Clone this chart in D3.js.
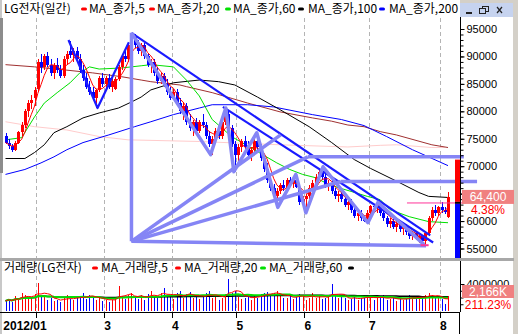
<!DOCTYPE html>
<html><head><meta charset="utf-8">
<script src="https://cdn.jsdelivr.net/npm/d3@7/dist/d3.min.js"></script>
<style>
body{margin:0;background:#fff;}
svg{display:block;}
text{font-family:"Liberation Sans",Arial,sans-serif;}
.kr{font-family:"Noto Sans CJK KR","Liberation Sans",sans-serif;}
</style>
</head><body>
<svg id="chart" width="518" height="334"></svg>
<script>
// ---- daily candles, LG전자 (Jan–Aug 2012) ----
const opens  = [75500,74300,73600,73000,74300,76200,77500,80000,81500,82500,84000,89000,88000,90000,88500,87000,88500,87500,86500,89500,
91000,90200,91000,89500,87500,86000,84500,83500,82500,83800,86000,85000,86000,84500,84000,85800,88000,90000,89500,92000,
93800,92000,91000,92000,90000,88500,89000,87000,85500,86500,85000,83500,82500,83500,81500,80000,81000,78000,77000,78000,
76500,78000,77500,75500,74000,75000,76500,75500,78000,79500,77000,74000,72000,73500,74500,73500,72000,73000,74500,73500,
71500,69500,67500,66000,64500,65500,66500,66000,67500,67000,67500,66200,63500,64000,64500,66000,67000,68000,69000,68000,
66500,67000,65500,64500,65000,64000,63000,63500,62000,61000,61500,60500,60000,61500,62800,62500,63000,61500,60500,59500,
60000,59000,59500,58500,59000,58000,57200,57800,56800,57200,56300,57800,60500,62000,61500,62500,62000,60800];
const highs  = [76000,75000,74000,74600,76500,78000,80500,82000,83000,84500,89500,90500,90500,90800,89500,88800,89800,88500,90000,91000,
92800,91500,91800,90500,88500,87000,85500,84500,84000,86500,87000,86500,86800,86000,86200,88500,90500,91500,92500,94300,
94000,93000,92500,92500,90500,89500,89500,88000,87000,87000,85800,84500,84000,84000,82500,81500,81500,79500,78500,78800,
78500,79500,78000,76500,75500,77000,77500,78500,80600,80000,77500,74500,74000,75000,75500,74500,73500,75000,76100,74000,
72000,70500,68500,66800,66000,67000,67500,67800,68000,68000,68500,66500,64500,65000,66500,67500,68500,69500,69900,68500,
67500,67500,66000,65500,65500,64500,64000,64000,62500,62000,62000,61000,62000,63000,63200,63400,63200,62000,61000,60500,
60500,60000,60000,59500,59500,58500,58200,58000,57500,57500,58000,61000,62500,63000,62800,63500,62500,65300];
const lows   = [74000,73200,72600,72800,74000,75500,77000,79000,80500,81000,83500,87000,87500,88000,86500,85800,87000,86000,86000,88500,
89800,89000,89000,87000,85500,84000,83000,82000,80600,83500,84500,84000,84000,83500,83800,85500,87500,89000,89000,91500,
91500,90500,90000,89500,88000,87000,86500,85000,85000,84500,83000,82000,82000,81000,79500,78500,77500,76500,75500,76000,
76000,77000,75000,73500,72100,74500,75000,75000,77500,76500,73500,69000,71000,72500,73000,71500,71000,72500,73000,71000,
69000,67000,65500,64000,62500,65000,65500,65500,66500,66000,66000,63000,62200,61500,64000,65500,66500,67500,67500,66000,
65500,65000,64000,63500,63500,62500,62000,61500,60500,60000,60000,59800,59700,61000,62000,61500,61000,60000,59000,58800,
58500,58000,58000,57500,57500,56800,56500,56500,56000,56000,55700,57500,60000,61000,61000,61500,61200,60500];
const closes = [74300,73600,73000,74300,76200,77500,80000,81500,82000,83800,89000,88000,90000,88500,87000,88500,87500,86500,89500,90500,
90200,91000,89500,87500,86000,84500,83500,82500,83800,86000,85000,86000,84500,85500,85800,88000,90000,89500,92000,93800,
92000,91000,92000,90000,88500,89000,87000,85500,86500,85000,83500,82500,83500,81500,80000,81000,78000,77000,78000,76500,
78000,77500,75500,74000,75000,76500,75500,78000,79500,77000,74000,72000,73500,74500,73500,72000,73000,74500,73500,71500,
69500,67500,66000,64500,65500,66500,66000,67500,67000,67500,66200,63500,64000,64500,66000,67000,68000,69000,68000,66500,
67000,65500,64500,65000,64000,63000,63500,62000,61000,61500,60500,60000,61500,62800,62500,63000,61500,60500,59500,60000,
59000,59500,58500,59000,58000,57200,57800,56800,57200,56300,57800,60500,62000,61500,62500,62000,61700,64400];
// volume, thousands of shares
const volumes = [1500,1800,1400,2200,1900,2600,2300,1800,2000,2500,4100,2200,2400,1600,1900,1500,1700,1400,2000,2300,
1800,1600,1900,2200,2700,1800,2400,2000,1600,2100,1500,1700,1400,1600,2000,3700,2200,1800,2400,2600,
2100,1800,2400,1700,2500,2900,2200,2000,2600,3400,2200,2100,1800,2600,2900,1900,2500,2800,2000,2200,
1800,2300,2600,2900,2000,2200,1700,2000,2500,4800,2600,2900,2100,1800,2000,2300,1700,2200,2000,2500,
2700,2800,2400,2600,2900,2200,1900,2000,2400,1800,2100,2500,2300,1700,2000,2600,1900,2200,1800,2000,
2200,4000,2300,1900,2100,2000,1600,1800,2200,1700,2000,1900,2300,2100,1700,1900,2000,2300,1600,1800,
2000,1500,1900,1700,1800,2300,2000,1800,2200,1900,2400,2700,2300,1900,2100,1800,1025.4,2166];

// first trading day of each month shown, and its axis label
const monthStart  = [10,31,52,72,93,113,135];
const monthLabels = ["2012/01","3","4","5","6","7","8"];
const priceTicks  = [55000,60000,65000,70000,75000,80000,85000,90000,95000];

// longer moving averages as [day index, price]
const ma60  = [[0,74800],[5,75200],[9,79000],[12,81500],[16,83400],[20,85200],[23,87000],[26,88100],[29,87700],[36,87900],[42,88300],[45,88500],[52,88100],[56,85700],[60,82800],[64,78500],[70,75400],[77,73000],[84,70600],[88,69400],[92,68500],[96,67900],[99,67000],[103,66100],[107,65400],[112,64500],[116,63900],[119,62100],[125,60800],[131,59900],[137,59700]];
const ma100 = [[0,71400],[6,71400],[9,72500],[12,73900],[15,76100],[19,77200],[24,78800],[29,79700],[35,80600],[39,81700],[42,82600],[45,83900],[52,85200],[60,85700],[66,85400],[71,84800],[78,82600],[85,80300],[94,77200],[101,74300],[108,71200],[113,69600],[122,67000],[128,65200],[131,64500],[137,64300]];
const ma120 = [[0,88500],[9,88100],[19,87500],[27,87000],[36,86300],[42,85700],[45,85400],[54,84800],[56,84500],[64,83400],[75,81500],[85,79900],[95,78800],[101,78200],[106,77500],[111,77200],[116,76300],[121,75700],[132,73900],[137,73400]];
const ma200 = [[0,68500],[6,69400],[11,70600],[15,71700],[19,73000],[24,74300],[32,75700],[40,77200],[45,78100],[52,79400],[60,80600],[64,81200],[75,81200],[83,80800],[95,79400],[104,78500],[111,77400],[118,75400],[126,73000],[137,70100]];
const ma240 = [[0,78100],[9,77200],[19,76600],[29,75400],[38,74800],[60,74500],[85,73900],[106,73500],[116,73800],[121,73900],[132,73400],[136,73400]];

// drawn studies: trend lines, zigzag, fan, levels
const trendV     = [[19.5,93000],[28.5,80600],[38.2,92600]];
const trendUpper = [[39,94300],[131.5,57400]];
const trendLower = [[67.3,80800],[132.4,56100]];
const zigzag = [[39,94300],[63.5,72100],[68.2,80600],[70.7,69000],[77.8,76100],[84.3,62500],[89.9,68500],[93,61500],[98.3,69900],[112.2,59700],[115.3,63400],[129.6,55700]];
const fanOrigin = [39,56300];
const fanEnds   = [[85.2,75700],[93.6,71700],[103.8,67200],[130.2,55500]];
const levels    = [[93.6,141.9,71700],[103.8,146,67200]];
const markLine  = [124.3,142.6,63300];
const rangeBar  = [71200,63500,53200];

const priceLegend = ["MA_종가,5","MA_종가,20","MA_종가,60","MA_종가,100","MA_종가,200"];
const priceLegendColors = ["#ff0000","#ff0000","#00e000","#000000","#0000ff"];
const volLegend = ["MA_거래량,5","MA_거래량,20","MA_거래량,60",""];
const volLegendColors = ["#ff0000","#ff0000","#00e000","#000000"];

// ---- scales ----
const n = closes.length;
const x  = d3.scaleLinear().domain([0, n-1]).range([5.5, 448]);
const y  = d3.scaleLinear().domain([55000, 95000]).range([248.5, 29]);
const yv = d3.scaleLinear().domain([0, 4000]).range([311, 284]);

const svg = d3.select("#chart");
const defs = svg.append("defs");
defs.append("clipPath").attr("id","pclip").append("rect").attr("x",3).attr("y",18).attr("width",456).attr("height",240);
defs.append("clipPath").attr("id","vclip").append("rect").attr("x",3).attr("y",262).attr("width",456).attr("height",50);

// ---- frame ----
svg.append("rect").attr("width",518).attr("height",334).attr("fill","#fff");
svg.append("rect").attr("x",513).attr("y",0).attr("width",5).attr("height",334).attr("fill","#d4d0c8");
svg.append("rect").attr("x",460).attr("y",0).attr("width",58).attr("height",3).attr("fill","#d4d0c8");
svg.append("rect").attr("x",460).attr("y",3).attr("width",53).attr("height",14).attr("fill","#c6d3ef");
svg.append("rect").attr("x",0).attr("y",0).attr("width",2).attr("height",334).attr("fill","#c8c8c8");
svg.append("rect").attr("x",0).attr("y",18).attr("width",3).attr("height",155).attr("fill","#8c8c8c");
// window buttons
const btn = svg.append("g").attr("stroke","#222").attr("fill","none").attr("shape-rendering","crispEdges");
btn.append("line").attr("x1",466).attr("x2",472).attr("y1",12.5).attr("y2",12.5).attr("stroke-width",2);
btn.append("rect").attr("x",479.5).attr("y",8.5).attr("width",6).attr("height",5);
btn.append("polyline").attr("points","482.5,8.5 482.5,6.5 488.5,6.5 488.5,11.5 485.5,11.5");
btn.append("path").attr("d","M497,7L502,13M502,7L497,13").attr("shape-rendering","geometricPrecision").attr("stroke-width",1.2);

// ---- month grid ----
const grid = svg.append("g").attr("stroke","#b4b4b4").attr("stroke-dasharray","4,3");
monthStart.forEach(m => {
  const gx = Math.round(x(m-0.5)) + 0.5;
  grid.append("line").attr("x1",gx).attr("x2",gx).attr("y1",18).attr("y2",258);
  grid.append("line").attr("x1",gx).attr("x2",gx).attr("y1",262).attr("y2",312);
});

// ---- price panel ----
const pp = svg.append("g").attr("clip-path","url(#pclip)");
const pline = d3.line().x(d => x(d[0])).y(d => y(d[1]));
[[ma240,"#ffcccc",1],[ma120,"#a03030",1],[ma200,"#0000ff",1],[ma100,"#000000",1],[ma60,"#00e000",1]].forEach(([pts,c,w]) => {
  pp.append("path").attr("d",pline(pts)).attr("fill","none").attr("stroke",c).attr("stroke-width",w);
});

const idx = d3.range(n);
const colorOf = i => closes[i] >= opens[i] ? "#ff0000" : "#0000ff";
pp.append("g").attr("shape-rendering","crispEdges").selectAll("rect").data(idx).join("rect")
  .attr("x", i => Math.round(x(i))).attr("y", i => y(highs[i]))
  .attr("width",1).attr("height", i => y(lows[i]) - y(highs[i])).attr("fill", colorOf);
pp.append("g").attr("shape-rendering","crispEdges").selectAll("rect").data(idx).join("rect")
  .attr("x", i => Math.round(x(i)) - 1).attr("y", i => y(Math.max(opens[i],closes[i])))
  .attr("width",3).attr("height", i => Math.max(1, y(Math.min(opens[i],closes[i])) - y(Math.max(opens[i],closes[i]))))
  .attr("fill", colorOf);

const sma = (arr, k) => arr.map((_, i) => d3.mean(arr.slice(Math.max(0, i-k+1), i+1)));
const ma5 = sma(closes, 5);
pp.append("path").attr("d", d3.line().x((d,i) => x(i)).y(d => y(d))(ma5))
  .attr("fill","none").attr("stroke","#ff0000").attr("stroke-width",1);

// studies
const st = svg.append("g");
const trendStyle = (p, c, w) => p.attr("fill","none").attr("stroke",c).attr("stroke-width",w).attr("stroke-linejoin","round");
trendStyle(st.append("path").attr("d", pline(trendV)), "#1a1aff", 2.2);
trendStyle(st.append("path").attr("d", pline(trendUpper)), "#1a1aff", 2.2);
trendStyle(st.append("path").attr("d", pline(trendLower)), "#1a1aff", 2.2);
const lav = "#8585f5";
trendStyle(st.append("path").attr("d", pline([[fanOrigin[0],94300],fanOrigin])), lav, 3.5);
fanEnds.forEach(e => trendStyle(st.append("path").attr("d", pline([fanOrigin, e])), lav, 3.5));
levels.forEach(l => trendStyle(st.append("path").attr("d", pline([[l[0],l[2]],[l[1],l[2]]])), lav, 3.5));
trendStyle(st.append("path").attr("d", pline(zigzag)), lav, 3.5);
st.append("path").attr("d", pline([[markLine[0],markLine[2]],[markLine[1],markLine[2]]]))
  .attr("stroke","#ff3399").attr("stroke-width",1);
st.append("path").attr("d", pline([[128.5,55600],[131,55600]])).attr("stroke","#ff3399").attr("stroke-width",2);

// price range bar at the right edge
svg.append("rect").attr("x",455).attr("y",y(rangeBar[0])).attr("width",5).attr("height",y(rangeBar[1])-y(rangeBar[0])).attr("fill","#ff0000");
svg.append("rect").attr("x",455).attr("y",y(rangeBar[1])).attr("width",5).attr("height",2).attr("fill","#000");
svg.append("rect").attr("x",455).attr("y",y(rangeBar[1])+2).attr("width",5).attr("height",y(rangeBar[2])-y(rangeBar[1])-2).attr("fill","#0000ff");

const last = closes[n-1], prev = closes[n-2];
const lastV = volumes[n-1], prevV = volumes[n-2];
// labels that sit right under the price tag / change readout are handled separately
const underTag  = d => Math.abs(y(d) - y(last)) < 8;
const underRead = d => y(d) - y(last) >= 8 && y(d) - y(last) < 30;

// price axis
const pax = svg.append("g").attr("transform","translate(460.5,0)");
pax.append("line").attr("y1",17).attr("y2",258).attr("stroke","#000");
pax.append("g").call(d3.axisRight(y).tickValues(d3.range(55000,96000,1000)).tickSize(3).tickFormat(""))
  .call(g => g.select(".domain").remove());
pax.append("g").call(d3.axisRight(y).tickValues(priceTicks).tickSize(4).tickPadding(2)
    .tickFormat(d => (underTag(d) || underRead(d)) ? "" : d3.format("d")(d)))
  .call(g => g.select(".domain").remove())
  .call(g => g.selectAll("text").attr("font-size",11).attr("font-family","Liberation Sans, Arial").attr("fill","#000"));

// last price tag
svg.append("rect").attr("x",462).attr("y",y(last)-7).attr("width",52).attr("height",14).attr("fill","#f08080");
svg.append("text").attr("x",488).attr("y",y(last)).attr("dy","0.36em").attr("text-anchor","middle")
  .attr("fill","#fff").attr("font-size",12).text(d3.format(",")(last));
// change readout; the axis label below it only shows its lower part
const readBottom = y(last) + 19;
defs.append("clipPath").attr("id","lowclip").append("rect").attr("x",455).attr("y",readBottom).attr("width",63).attr("height",30);
svg.append("g").attr("clip-path","url(#lowclip)").selectAll("text").data(priceTicks.filter(underRead)).join("text")
  .attr("x",466.5).attr("y",d => y(d)).attr("dy","0.32em").attr("font-size",11).attr("fill","#000")
  .text(d => d3.format("d")(d));
svg.append("text").attr("x",488).attr("y",y(last)+13).attr("dy","0.36em").attr("text-anchor","middle")
  .attr("fill","#ff0000").attr("font-size",12).text(((last/prev-1)*100).toFixed(2)+"%");

// ---- panel separator ----
svg.append("rect").attr("x",0).attr("y",258).attr("width",514).attr("height",3).attr("fill","#a8a8a8");

// ---- volume panel ----
const vp = svg.append("g").attr("clip-path","url(#vclip)");
vp.append("g").attr("shape-rendering","crispEdges").selectAll("rect").data(idx).join("rect")
  .attr("x", i => Math.round(x(i))).attr("y", i => yv(volumes[i]))
  .attr("width",1).attr("height", i => 311 - yv(volumes[i])).attr("fill", colorOf);
const vline = d3.line().x((d,i) => x(i)).y(d => yv(d));
vp.append("path").attr("d", vline(sma(volumes,60))).attr("fill","none").attr("stroke","#000").attr("stroke-width",1.5);
vp.append("path").attr("d", vline(sma(volumes,20))).attr("fill","none").attr("stroke","#00e000").attr("stroke-width",2);
vp.append("path").attr("d", vline(sma(volumes,5))).attr("fill","none").attr("stroke","#ff0000").attr("stroke-width",1);

// volume axis; its top label peeks out above the volume tag
const vax = svg.append("g").attr("transform","translate(460.5,0)");
vax.append("line").attr("y1",261).attr("y2",312).attr("stroke","#000");
vax.append("g").call(d3.axisRight(yv).tickValues([1000,2000,3000,4000]).tickSize(3).tickFormat(""))
  .call(g => g.select(".domain").remove());
vax.append("g").call(d3.axisRight(yv).tickValues([4000]).tickSize(4).tickPadding(2).tickFormat(d => String(d*1000)))
  .call(g => g.select(".domain").remove())
  .call(g => g.selectAll("text").attr("font-size",11).attr("font-family","Liberation Sans, Arial").attr("fill","#000"));

svg.append("rect").attr("x",462).attr("y",285).attr("width",52).attr("height",13).attr("fill","#f08080");
svg.append("text").attr("x",488).attr("y",291.5).attr("dy","0.36em").attr("text-anchor","middle")
  .attr("fill","#fff").attr("font-size",12).text(d3.format(",")(Math.round(lastV))+"K");
svg.append("text").attr("x",488).attr("y",305).attr("dy","0.36em").attr("text-anchor","middle")
  .attr("fill","#ff0000").attr("font-size",12).text((lastV/prevV*100).toFixed(2)+"%");

// ---- date axis ----
const xax = svg.append("g").attr("transform","translate(0,312.5)");
xax.append("line").attr("x1",0).attr("x2",459.5).attr("stroke","#000");
svg.append("line").attr("x1",459.5).attr("x2",459.5).attr("y1",312).attr("y2",334).attr("stroke","#000");
xax.append("g").call(d3.axisBottom(x).tickValues(monthStart.map(m => m-0.5)).tickSize(5).tickPadding(4)
    .tickFormat((d,k) => monthLabels[k]))
  .call(g => g.select(".domain").remove())
  .call(g => g.selectAll(".tick line").attr("shape-rendering","crispEdges"))
  .call(g => g.selectAll("text").attr("font-size",12).attr("font-weight","bold").attr("fill","#000")
     .attr("font-family","Liberation Sans, Arial")
     .attr("text-anchor",(d,k) => k === 0 ? "end" : "middle")
     .attr("dx",(d,k) => k === 0 ? 10 : 3));

// ---- legends ----
const legendRow = (yy, title, names, colors, markX, textX) => {
  const g = svg.append("g");
  g.append("text").attr("class","kr").attr("x",4).attr("y",yy).attr("dy","0.36em").attr("font-size",12).attr("fill","#000").text(title);
  names.forEach((nm,k) => {
    g.append("rect").attr("x",markX[k]).attr("y",yy-1.5).attr("width",6).attr("height",3).attr("rx",1.5).attr("fill",colors[k]);
    if (nm) g.append("text").attr("class","kr").attr("x",textX[k]).attr("y",yy).attr("dy","0.36em")
      .attr("font-size",12).attr("fill","#000").text(nm);
  });
};
legendRow(9, "LG전자(일간)", priceLegend, priceLegendColors, [81,149,225,298,379], [89,157,233,308,389]);
legendRow(268, "거래량(LG전자)", volLegend, volLegendColors, [92,175,260,348], [101,184,269,0]);
</script>
</body></html>
